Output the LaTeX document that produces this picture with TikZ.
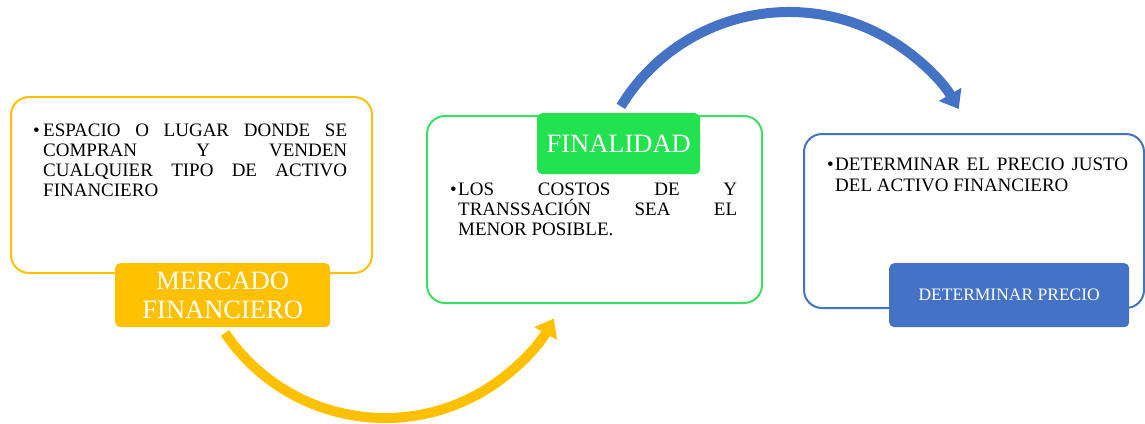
\documentclass[tikz,border=0pt]{standalone}
\usepackage{fontspec}
\setmainfont{Liberation Serif}
\usetikzlibrary{arrows.meta,calc}
\hbadness=10000
\definecolor{ylw}{HTML}{FFC000}
\definecolor{grnline}{HTML}{3BE062}
\definecolor{grnfill}{HTML}{22E24F}
\definecolor{blu}{HTML}{4472C4}
\begin{document}
\begin{tikzpicture}[x=1pt,y=-1pt,
  panel/.style={draw,line width=2pt,rounded corners=18pt,fill=white,anchor=north west,inner sep=0pt},
  tag/.style={rounded corners=5pt,text=white,align=center,inner sep=0pt,anchor=north west},
  curvedarrow/.style={line width=10pt,-{Triangle[width=25pt,length=17pt]}},
  bullettext/.style={anchor=base west,inner sep=0pt,text=black,font=\fontsize{19}{20}\selectfont}]
\useasboundingbox (0,0) rectangle (1145,423);
% panels
\node[panel,draw=ylw,minimum width=361pt,minimum height=176pt] (b1) at (10,96) {};
\node[panel,draw=grnline,minimum width=335pt,minimum height=187pt] (b2) at (426,115) {};
\node[panel,draw=blu,minimum width=340pt,minimum height=174pt] (b3) at (803,133) {};
% texts
\node[bullettext] (t1) at (33,136) {\makebox[10pt][l]{•}\parbox[t]{304pt}{ESPACIO O LUGAR DONDE SE\linebreak COMPRAN Y VENDEN\linebreak CUALQUIER TIPO DE ACTIVO\linebreak FINANCIERO}};
\node[bullettext] (t2) at (450,195) {\makebox[8pt][l]{•}\parbox[t]{279pt}{LOS COSTOS DE Y\linebreak TRANSSACIÓN SEA EL\linebreak MENOR POSIBLE.}};
\node[bullettext,font=\fontsize{19}{21.7}\selectfont] (t3) at (827,170) {\makebox[8pt][l]{•}\parbox[t]{293pt}{DETERMINAR EL PRECIO JUSTO\linebreak DEL ACTIVO FINANCIERO}};
% arrows
\coordinate (ys) at ($(385,225)+(146:193)$);
\coordinate (bs) at ($(789,209)+(211.4:197)$);
\draw[curvedarrow,ylw] (ys) arc[start angle=146,end angle=29,radius=193];
\draw[curvedarrow,blu] (bs) arc[start angle=211.4,end angle=329.5,radius=197];
% tags
\node[tag,fill=ylw,minimum width=215pt,minimum height=64pt,font=\fontsize{26.5}{29}\selectfont] (l1) at (115,263) {MERCADO\\FINANCIERO};
\node[tag,fill=grnfill,minimum width=163pt,minimum height=61pt,font=\fontsize{26.5}{29}\selectfont] (l2) at (537,113) {FINALIDAD};
\node[tag,fill=blu,minimum width=240pt,minimum height=64pt,font=\fontsize{17.5}{20}\selectfont] (l3) at (889,263) {DETERMINAR\ PRECIO};
\end{tikzpicture}
\end{document}
